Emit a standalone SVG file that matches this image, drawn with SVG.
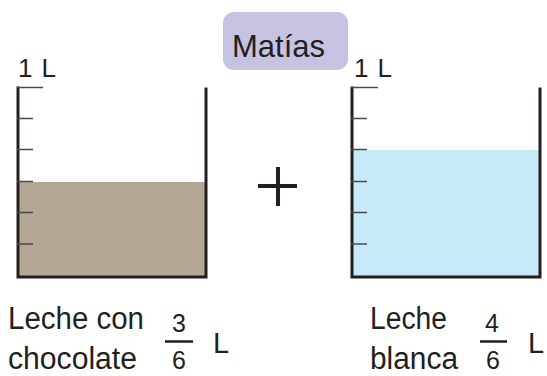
<svg xmlns="http://www.w3.org/2000/svg" width="547" height="376" viewBox="0 0 547 376">
<style>
.wall{fill:none;stroke:#231f20;stroke-width:3;stroke-linecap:square}
.tick{stroke:#4a4a4a;stroke-width:1.5}
.txt{font-family:"Liberation Sans",Arial,sans-serif;fill:#231f20}
.bar{stroke:#231f20;stroke-width:2.5}
</style>
<rect width="547" height="376" fill="#ffffff"/>
<g id="title">
<rect x="223" y="12" width="125" height="58" rx="11" ry="11" fill="#c5c2e2"/>
<text class="txt" x="232" y="57" font-size="32" textLength="93" lengthAdjust="spacingAndGlyphs">Matías</text>
</g>
<g id="jar-chocolate">
<rect x="19" y="182" width="186" height="95" fill="#b4a794"/>
<polyline class="wall" points="18,88 18,277 206,277 206,89"/>
<line class="tick" x1="17" y1="87.5" x2="43" y2="87.5"/>
<line class="tick" x1="17" y1="118.5" x2="33" y2="118.5"/>
<line class="tick" x1="17" y1="149.5" x2="33" y2="149.5"/>
<line class="tick" x1="17" y1="181.5" x2="33" y2="181.5"/>
<line class="tick" x1="17" y1="212.5" x2="33" y2="212.5"/>
<line class="tick" x1="17" y1="244" x2="33" y2="244"/>
<text class="txt" x="18" y="77" font-size="26" textLength="38" lengthAdjust="spacing">1 L</text>
</g>
<g id="plus">
<line x1="278" y1="167" x2="278" y2="206" stroke="#231f20" stroke-width="4"/>
<line x1="258" y1="186" x2="297" y2="186" stroke="#231f20" stroke-width="4"/>
</g>
<g id="jar-blanca">
<rect x="353" y="150" width="186" height="127" fill="#c5e9f7"/>
<polyline class="wall" points="352,88 352,277 540,277 540,89"/>
<line class="tick" x1="351" y1="87.5" x2="378" y2="87.5"/>
<line class="tick" x1="351" y1="118.5" x2="367" y2="118.5"/>
<line class="tick" x1="351" y1="149.5" x2="367" y2="149.5"/>
<line class="tick" x1="351" y1="181.5" x2="367" y2="181.5"/>
<line class="tick" x1="351" y1="212.5" x2="367" y2="212.5"/>
<line class="tick" x1="351" y1="244" x2="367" y2="244"/>
<text class="txt" x="354" y="77" font-size="26" textLength="38" lengthAdjust="spacing">1 L</text>
</g>
<g id="label-chocolate">
<text class="txt" x="8" y="329" font-size="31" textLength="136" lengthAdjust="spacingAndGlyphs">Leche con</text>
<text class="txt" x="8" y="369" font-size="31" textLength="129" lengthAdjust="spacingAndGlyphs">chocolate</text>
<text class="txt" x="179" y="332" font-size="25" text-anchor="middle">3</text>
<line class="bar" x1="165" y1="341.5" x2="193" y2="341.5"/>
<text class="txt" x="179" y="369" font-size="25" text-anchor="middle">6</text>
<text class="txt" x="213" y="353" font-size="29">L</text>
</g>
<g id="label-blanca">
<text class="txt" x="370" y="329" font-size="31" textLength="77" lengthAdjust="spacingAndGlyphs">Leche</text>
<text class="txt" x="370" y="369" font-size="31" textLength="88" lengthAdjust="spacingAndGlyphs">blanca</text>
<text class="txt" x="492" y="332" font-size="25" text-anchor="middle">4</text>
<line class="bar" x1="480" y1="341.5" x2="507" y2="341.5"/>
<text class="txt" x="493" y="369" font-size="25" text-anchor="middle">6</text>
<text class="txt" x="528" y="353" font-size="29">L</text>
</g>
</svg>
